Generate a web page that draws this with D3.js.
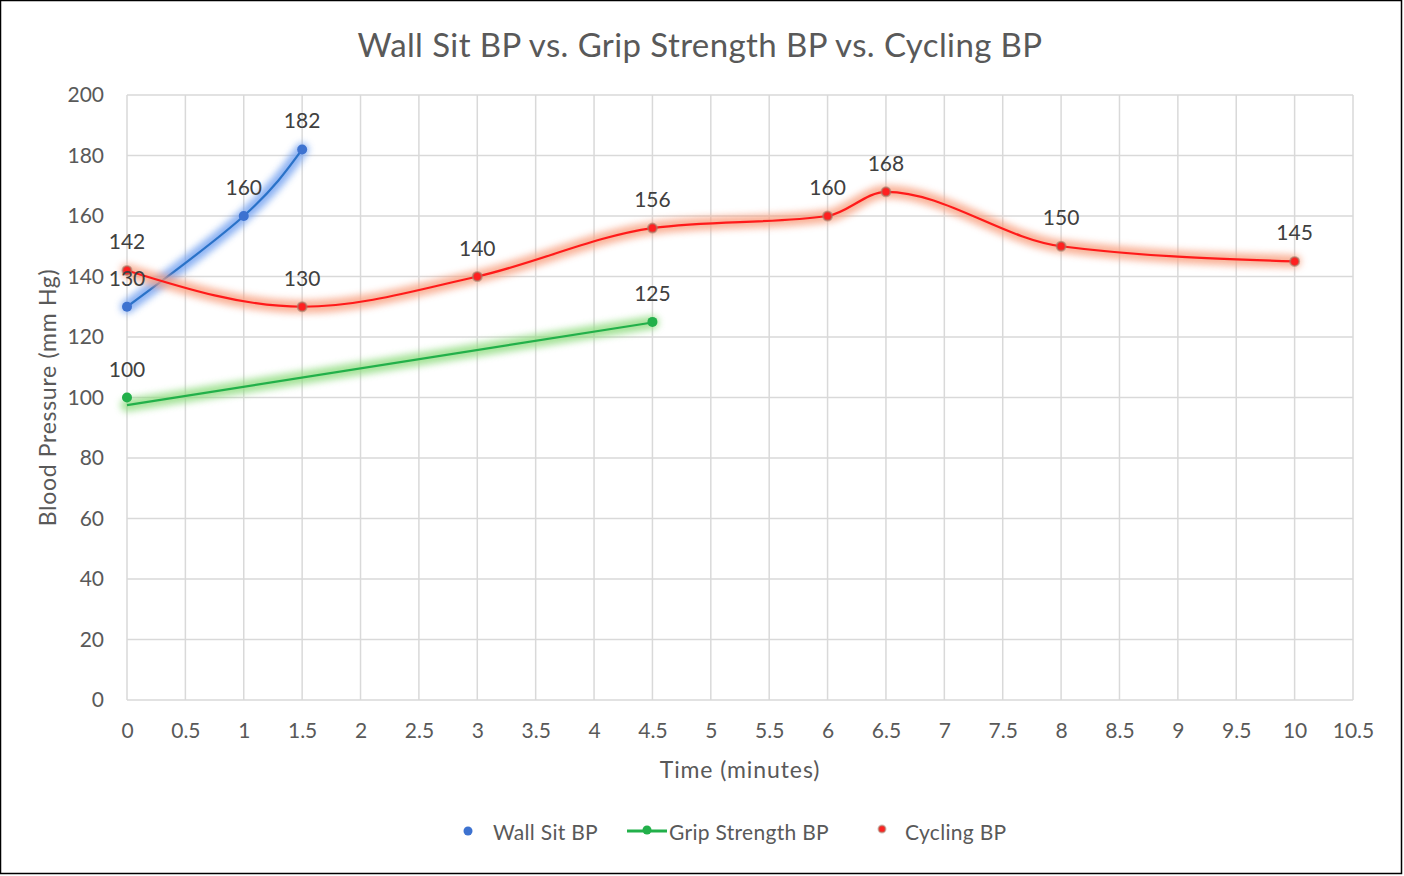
<!DOCTYPE html>
<html><head><meta charset="utf-8">
<script src="https://cdn.jsdelivr.net/npm/d3@7"></script>
<style>body{margin:0;background:#fff;} text{font-family:Lato,"Open Sans",sans-serif;}</style>
</head><body>
<svg id="c" width="1404" height="876"></svg>
<script>
const title = "Wall Sit BP vs. Grip Strength BP vs. Cycling BP";
const xTicks = [0,0.5,1,1.5,2,2.5,3,3.5,4,4.5,5,5.5,6,6.5,7,7.5,8,8.5,9,9.5,10,10.5];
const yTicks = [0,20,40,60,80,100,120,140,160,180,200];
const wallX = [0,1,1.5];
const wallY = [130,160,182];
const gripX = [0,4.5];
const gripY = [100,125];
const gripTrendY = [97.5,124.8];
const cycX = [0,1.5,3,4.5,6,6.5,8,10];
const cycY = [142,130,140,156,160,168,150,145];
const seriesNames = ["Wall Sit BP","Grip Strength BP","Cycling BP"];

const svg = d3.select("#c");
const x = d3.scaleLinear().domain([0,10.5]).range([127,1353]);
const y = d3.scaleLinear().domain([0,200]).range([700,95]);

svg.append("rect").attr("x",0.5).attr("y",0.5).attr("width",1401).attr("height",873)
  .attr("fill","#fff").attr("stroke","#000").attr("stroke-width",1.5);

const defs = svg.append("defs");
const f = defs.append("filter").attr("id","glow").attr("x","-20%").attr("y","-50%").attr("width","140%").attr("height","200%");
f.append("feGaussianBlur").attr("stdDeviation",3.5);

// grid
svg.append("g").selectAll("line").data(xTicks).join("line")
  .attr("x1",d=>x(d)).attr("x2",d=>x(d)).attr("y1",y(200)).attr("y2",y(0))
  .attr("stroke","#d9d9d9").attr("stroke-width",1.5);
svg.append("g").selectAll("line").data(yTicks).join("line")
  .attr("x1",x(0)).attr("x2",x(10.5)).attr("y1",d=>y(d)).attr("y2",d=>y(d))
  .attr("stroke","#d9d9d9").attr("stroke-width",1.5);

// axes
const xa = svg.append("g").attr("transform",`translate(0,${y(0)})`)
  .call(d3.axisBottom(x).tickValues(xTicks).tickSize(0).tickPadding(23).tickFormat(d=>String(d)));
xa.select(".domain").remove();
xa.selectAll("text").attr("font-size",21).attr("fill","#595959").attr("font-family","Lato");
const ya = svg.append("g").attr("transform",`translate(${x(0)},0)`)
  .call(d3.axisLeft(y).tickValues(yTicks).tickSize(0).tickPadding(23).tickFormat(d=>String(d)));
ya.select(".domain").remove();
ya.selectAll("text").attr("font-size",21).attr("fill","#595959").attr("font-family","Lato");

svg.append("text").attr("x",700).attr("y",57).attr("text-anchor","middle")
  .attr("font-size",33).attr("letter-spacing",0.4).attr("fill","#595959").text(title);
svg.append("text").attr("x",x(5.25)).attr("y",778).attr("text-anchor","middle")
  .attr("font-size",23).attr("letter-spacing",0.9).attr("fill","#595959").text("Time (minutes)");
svg.append("text").attr("transform",`translate(56,${y(100)}) rotate(-90)`).attr("text-anchor","middle")
  .attr("font-size",23).attr("letter-spacing",0.7).attr("fill","#595959").text("Blood Pressure (mm Hg)");

function glowLine(pts, curve, glowColor, color){
  const line = d3.line().x(d=>x(d[0])).y(d=>y(d[1])).curve(curve);
  svg.append("path").attr("d",line(pts)).attr("fill","none").attr("stroke",glowColor)
    .attr("stroke-width",13).attr("stroke-linecap","round").attr("opacity",0.8).attr("filter","url(#glow)");
  svg.append("path").attr("d",line(pts)).attr("fill","none").attr("stroke",color).attr("stroke-width",2.2);
}

// grip
const gripLinePts = gripX.map((d,i)=>[d,gripTrendY[i]]);
glowLine(gripLinePts, d3.curveLinear, "#8fdc7f", "#22b04a");
// wall sit
const wallPts = wallX.map((d,i)=>[d,wallY[i]]);
glowLine(wallPts, d3.curveNatural, "#6f9ff0", "#2a72c8");
// cycling
const cycPts = cycX.map((d,i)=>[d,cycY[i]]);
glowLine(cycPts, d3.curveMonotoneX, "#f8a080", "#ff1a1a");

// markers
svg.append("g").selectAll("circle").data(wallPts).join("circle")
  .attr("cx",d=>x(d[0])).attr("cy",d=>y(d[1])).attr("r",5).attr("fill","#3d72d0");
svg.append("g").selectAll("circle").data(gripX.map((d,i)=>[d,gripY[i]])).join("circle")
  .attr("cx",d=>x(d[0])).attr("cy",d=>y(d[1])).attr("r",5).attr("fill","#22b04a");
svg.append("g").selectAll("circle").data(cycPts).join("circle")
  .attr("cx",d=>x(d[0])).attr("cy",d=>y(d[1])).attr("r",4.5).attr("fill","#ff2020")
  .attr("stroke","#a0806c").attr("stroke-opacity",0.6).attr("stroke-width",2);

// labels
const allLabels = [...wallPts, ...gripX.map((d,i)=>[d,gripY[i]]), ...cycPts];
svg.append("g").selectAll("text").data(allLabels).join("text")
  .attr("x",d=>x(d[0])).attr("y",d=>y(d[1])-21).attr("text-anchor","middle")
  .attr("font-size",21).attr("fill","#404040").text(d=>d[1]);

// legend
const lg = svg.append("g").attr("font-size",21).attr("letter-spacing",0.3).attr("fill","#595959");
lg.append("circle").attr("cx",468).attr("cy",831).attr("r",4.5).attr("fill","#3d72d0");
lg.append("text").attr("x",493).attr("y",840).attr("fill","#595959").text(seriesNames[0]);
lg.append("line").attr("x1",627).attr("x2",667).attr("y1",831).attr("y2",831).attr("stroke","#22b04a").attr("stroke-width",3);
lg.append("circle").attr("cx",647).attr("cy",830).attr("r",4.5).attr("fill","#22b04a");
lg.append("text").attr("x",669).attr("y",840).attr("fill","#595959").text(seriesNames[1]);
lg.append("circle").attr("cx",882).attr("cy",829).attr("r",3.5).attr("fill","#ff2020").attr("stroke","#a0806c").attr("stroke-opacity",0.5).attr("stroke-width",2);
lg.append("text").attr("x",905).attr("y",840).attr("fill","#595959").text(seriesNames[2]);
</script>
</body></html>
